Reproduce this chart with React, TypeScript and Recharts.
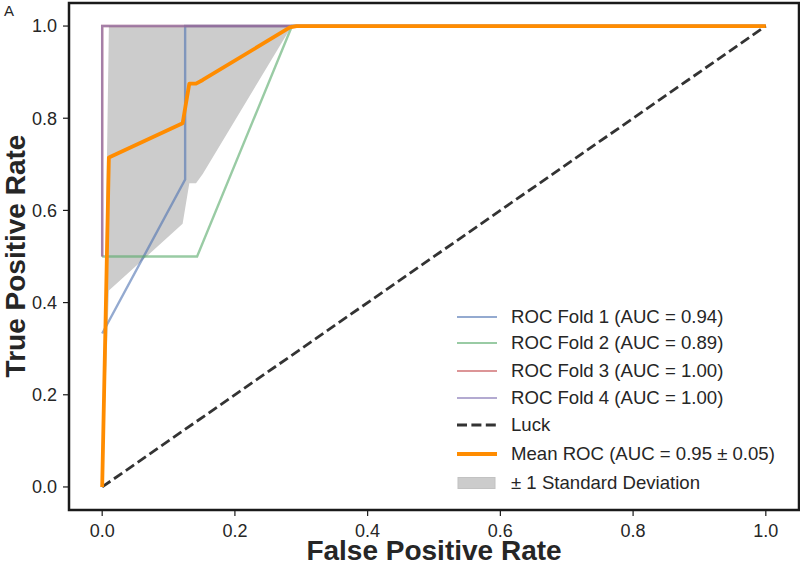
import { ComposedChart, Line, Area, XAxis, YAxis, ReferenceArea } from "recharts";

// ROC curves per fold (fpr / tpr)
const fold1Fpr = [0, 0.125, 0.125, 1];
const fold1Tpr = [0.333, 0.667, 1, 1];
const fold2Fpr = [0, 0.143, 0.286, 1];
const fold2Tpr = [0.5, 0.5, 1, 1];
const fold3Fpr = [0, 0, 1];
const fold3Tpr = [0.5, 1, 1];
const fold4Fpr = [0, 0, 1];
const fold4Tpr = [0.5, 1, 1];
const luckFpr = [0, 1];
const luckTpr = [0, 1];

// mean ROC and +/- 1 std band
const meanFpr = [0, 0.0101, 0.1212, 0.1313, 0.1414, 0.1515, 0.2828, 0.2929, 1];
const meanTpr = [0, 0.715, 0.789, 0.875, 0.875, 0.883, 0.997, 1, 1];
const stdLower = [0, 0.426, 0.571, 0.659, 0.659, 0.679, 0.993, 1, 1];
const stdUpper = [0, 1, 1, 1, 1, 1, 1, 1, 1];

const axisTicks = [0, 0.2, 0.4, 0.6, 0.8, 1.0];

const legendLabels = [
  "ROC Fold 1 (AUC = 0.94)",
  "ROC Fold 2 (AUC = 0.89)",
  "ROC Fold 3 (AUC = 1.00)",
  "ROC Fold 4 (AUC = 1.00)",
  "Luck",
  "Mean ROC (AUC = 0.95 \u00b1 0.05)",
  "\u00b1 1 Standard Deviation",
];

const toPoints = (xs: number[], ys: number[]) => xs.map((x, i) => ({ x, y: ys[i] }));

const fold1 = toPoints(fold1Fpr, fold1Tpr);
const fold2 = toPoints(fold2Fpr, fold2Tpr);
const fold3 = toPoints(fold3Fpr, fold3Tpr);
const fold4 = toPoints(fold4Fpr, fold4Tpr);
const luck = toPoints(luckFpr, luckTpr);
const meanRoc = toPoints(meanFpr, meanTpr);
const band = meanFpr.map((x, i) => ({ x, range: [stdLower[i], stdUpper[i]] }));

const TEXT = "#262626";
const FRAME = "#1a1a1a";

type Handle = { kind: "line" | "dash" | "patch"; color: string; width: number; opacity: number };
const handles: Handle[] = [
  { kind: "line", color: "#4C72B0", width: 2.2, opacity: 0.6 },
  { kind: "line", color: "#55A868", width: 2.2, opacity: 0.6 },
  { kind: "line", color: "#C44E52", width: 2.2, opacity: 0.6 },
  { kind: "line", color: "#8172B2", width: 2.2, opacity: 0.6 },
  { kind: "dash", color: "#333333", width: 2.8, opacity: 1 },
  { kind: "line", color: "#ff8c00", width: 3.8, opacity: 1 },
  { kind: "patch", color: "#cccccc", width: 0, opacity: 1 },
];
const legendRowY = [317, 343.3, 370.5, 397.6, 425.2, 453.6, 482.6];

function RocLegend() {
  return (
    <div style={{ position: "absolute", left: 0, top: 0, pointerEvents: "none" }}>
      {legendLabels.map((label, i) => {
        const h = handles[i];
        return (
          <div
            key={label}
            style={{
              position: "absolute",
              left: 456,
              top: legendRowY[i] - 13,
              height: 26,
              display: "flex",
              alignItems: "center",
              whiteSpace: "nowrap",
              fontSize: 18.6,
              color: TEXT,
            }}
          >
            <svg width={55} height={26}>
              {h.kind === "patch" ? (
                <rect x={2} y={7.5} width={37} height={11} fill={h.color} stroke="#c2c2c2" strokeWidth={1} />
              ) : (
                <line
                  x1={1}
                  x2={41}
                  y1={13}
                  y2={13}
                  stroke={h.color}
                  strokeOpacity={h.opacity}
                  strokeWidth={h.width}
                  strokeDasharray={h.kind === "dash" ? "10 4.4" : undefined}
                />
              )}
            </svg>
            <span>{label}</span>
          </div>
        );
      })}
    </div>
  );
}

export default function App() {
  return (
    <div
      style={{
        position: "absolute",
        left: 0,
        top: 0,
        width: 800,
        height: 564,
        background: "#ffffff",
        fontFamily: '"Liberation Sans", Arial, sans-serif',
      }}
    >
      <ComposedChart width={800} height={564} margin={{ top: 3, right: 1, bottom: 0, left: 0 }}>
        <XAxis
          dataKey="x"
          type="number"
          domain={[-0.05, 1.05]}
          ticks={axisTicks}
          allowDataOverflow
          tickFormatter={(v: number) => v.toFixed(1)}
          height={54}
          tickSize={6}
          tickMargin={8}
          axisLine={{ stroke: FRAME, strokeWidth: 2 }}
          tickLine={{ stroke: FRAME, strokeWidth: 1.2 }}
          tick={{ fontSize: 18, fill: TEXT }}
          label={() => (
            <text x={434} y={560} textAnchor="middle" fontSize={28} fontWeight="bold" fill={TEXT}>
              False Positive Rate
            </text>
          )}
        />
        <YAxis
          type="number"
          domain={[-0.05, 1.05]}
          ticks={axisTicks}
          allowDataOverflow
          tickFormatter={(v: number) => v.toFixed(1)}
          width={69}
          tickSize={6}
          tickMargin={6}
          axisLine={{ stroke: FRAME, strokeWidth: 2 }}
          tickLine={{ stroke: FRAME, strokeWidth: 1.2 }}
          tick={{ fontSize: 18, fill: TEXT }}
          label={() => (
            <text
              x={25}
              y={256}
              transform="rotate(-90 25 256)"
              textAnchor="middle"
              fontSize={28}
              fontWeight="bold"
              fill={TEXT}
            >
              True Positive Rate
            </text>
          )}
        />
        <Area
          data={band}
          dataKey="range"
          type="linear"
          stroke="none"
          fill="#cccccc"
          fillOpacity={1}
          isAnimationActive={false}
          activeDot={false}
          dot={false}
        />
        <Line data={fold1} dataKey="y" type="linear" stroke="#4C72B0" strokeOpacity={0.6} strokeWidth={2.4} dot={false} activeDot={false} isAnimationActive={false} />
        <Line data={fold2} dataKey="y" type="linear" stroke="#55A868" strokeOpacity={0.6} strokeWidth={2.4} dot={false} activeDot={false} isAnimationActive={false} />
        <Line data={fold3} dataKey="y" type="linear" stroke="#C44E52" strokeOpacity={0.6} strokeWidth={2.4} dot={false} activeDot={false} isAnimationActive={false} />
        <Line data={fold4} dataKey="y" type="linear" stroke="#8172B2" strokeOpacity={0.6} strokeWidth={2.4} dot={false} activeDot={false} isAnimationActive={false} />
        <Line data={luck} dataKey="y" type="linear" stroke="#333333" strokeWidth={2.8} strokeDasharray="10 4.4" dot={false} activeDot={false} isAnimationActive={false} />
        <Line data={meanRoc} dataKey="y" type="linear" stroke="#ff8c00" strokeWidth={3.8} strokeLinejoin="round" dot={false} activeDot={false} isAnimationActive={false} />
        <ReferenceArea x1={-0.05} x2={1.05} y1={-0.05} y2={1.05} fill="none" stroke={FRAME} strokeWidth={2.5} ifOverflow="visible" />
      </ComposedChart>
      <svg style={{ position: "absolute", left: 0, top: 0 }} width={30} height={24}>
        <text x={4} y={16} fontSize={15} fill={TEXT}>
          A
        </text>
      </svg>
      <RocLegend />
    </div>
  );
}
